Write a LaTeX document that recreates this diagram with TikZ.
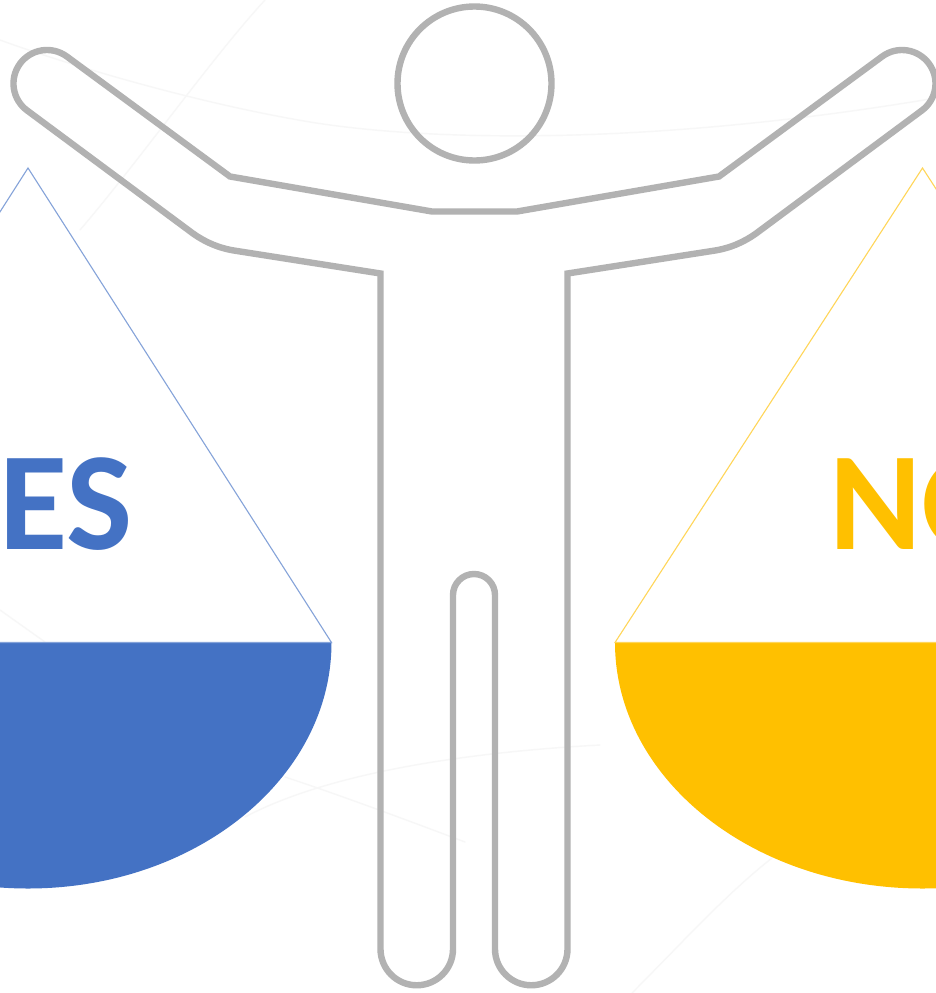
\documentclass[tikz,border=0pt]{standalone}
\usepackage{fontspec}
\setmainfont{Carlito}
\definecolor{figgray}{HTML}{B2B2B2}
\definecolor{yesblue}{HTML}{4472C4}
\definecolor{noyellow}{HTML}{FFC000}
\definecolor{faintline}{HTML}{F7F7F7}
\tikzset{
  figline/.style={draw=figgray, line width=6.4pt, line join=miter},
  faint/.style={draw=faintline, line width=1.4pt, line cap=round},
  pantext/.style={inner sep=0, font=\bfseries\fontsize{140}{140}\selectfont}
}
\begin{document}
\begin{tikzpicture}[x=1pt, y=1pt, yscale=-1]
    \useasboundingbox (0,0) rectangle (936,993);
    \clip (0,0) rectangle (936,993);
    \fill[white] (0,0) rectangle (936,993);
    % faint marks behind
    \draw[faint] (0,40) .. controls (60,62) and (190,102) .. (310,122) .. controls (420,140) and (640,148) .. (936,98);
    \draw[faint] (265,0) .. controls (210,60) and (140,160) .. (80,230);
    \draw[faint] (245,817) .. controls (330,772) and (470,752) .. (600,745);
    \draw[faint] (285,777) .. controls (340,795) and (420,825) .. (465,842);
    \draw[faint] (0,610) -- (45,642);
    \draw[faint] (632,993) .. controls (680,945) and (725,895) .. (772,858);
    % pans
    \fill[yesblue] (-275,642.5) -- (331.5,642.5) arc[start angle=0, end angle=180, x radius=303.5pt, y radius=246pt] -- cycle;
    \fill[noyellow] (615,642.5) -- (1230,642.5) arc[start angle=0, end angle=180, x radius=307.5pt, y radius=246pt] -- cycle;
    \draw[yesblue!65, line width=1.1pt] (-275,642.5) -- (28,168) -- (331.5,642.5) -- cycle;
    \draw[noyellow!65, line width=1.1pt] (615,642.5) -- (922.5,168) -- (1230,642.5) -- cycle;
    \node[pantext, text=yesblue, anchor=base east] (yes) at (133,549) {YES};
    \node[pantext, text=noyellow, anchor=base west] (no) at (829,549) {NO};
    % figure
    \draw[figline] (474.5,83.5) circle (77pt);
    \draw[figline] (230,176.5) -- (432,211.5) -- (517,211.5) -- (719,176.5) -- (882.3,56.4)
      arc[start angle=-126, end angle=54, radius=33.5pt] -- (756,233.5)
      .. controls (744,242) and (730,248.5) .. (712,251) -- (567.5,273.5) -- (567.5,949)
      arc[start angle=0, end angle=180, radius=36.25pt] -- (495,595)
      arc[start angle=0, end angle=-180, radius=21pt] -- (453,949)
      arc[start angle=0, end angle=180, radius=36.25pt] -- (380.5,273.5) -- (237,251)
      .. controls (219,248.5) and (205,242) .. (193,233.5) -- (27.3,110.6)
      arc[start angle=126, end angle=306, radius=33.5pt] -- cycle;
\end{tikzpicture}
\end{document}
